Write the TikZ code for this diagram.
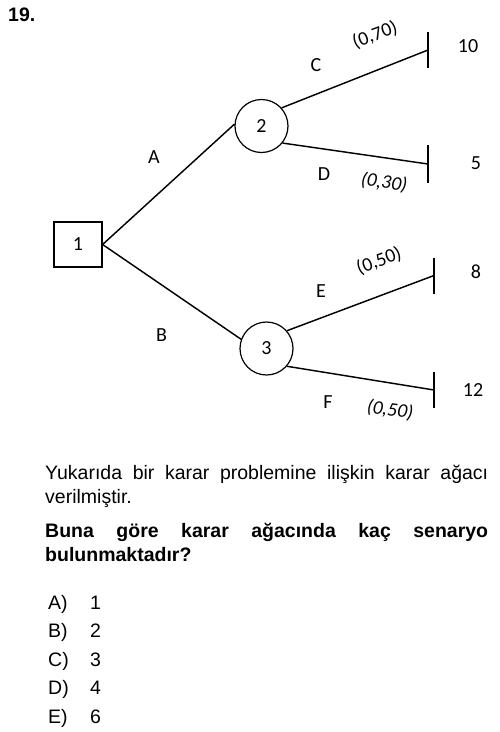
\documentclass[tikz,border=0pt]{standalone}
\usepackage{fontspec}
\setmainfont{Liberation Sans}
\newfontfamily\lblfont{Carlito}
\begin{document}
\begin{tikzpicture}[x=1pt,y=-1pt,
  qtext/.style={anchor=base west, inner sep=0, font=\fontsize{19.5}{24}\selectfont},
  qbold/.style={qtext, font=\bfseries\fontsize{19.5}{24}\selectfont},
  lbl/.style={inner sep=0, font=\lblfont\fontsize{20}{24}\selectfont},
  prob/.style={inner sep=0, font=\lblfont\fontsize{19.5}{23}\selectfont},
  probit/.style={inner sep=0, font=\lblfont\itshape\fontsize{19.5}{23}\selectfont},
  branch/.style={line width=1.45pt},
  endbar/.style={line width=1.45pt},
  chance/.style={circle, draw, line width=1.2pt, minimum size=53pt, inner sep=0, font=\lblfont\fontsize{20}{24}\selectfont},
  decision/.style={rectangle, draw, line width=1.2pt, minimum width=48pt, minimum height=45pt, inner sep=0, font=\lblfont\fontsize{20}{24}\selectfont}]
\useasboundingbox (0,0) rectangle (500,732);

% question number
\node[qbold] (qnum) at (8,21) {19.};

% tree nodes
\node[decision] (n1) at (78,244.5) {1};
\node[chance] (n2) at (261.5,126) {2};
\node[chance] (n3) at (266.5,348.5) {3};

% end points
\coordinate (eC) at (428,50);
\coordinate (eD) at (428,164);
\coordinate (eE) at (434,275.5);
\coordinate (eF) at (434,390);

% branches
\draw[branch] (n1.east) -- (n2.176);
\draw[branch] (n1.east) -- (n3.160);
\draw[branch] (n2.42) -- (eC);
\draw[branch] (n2.-39) -- (eD);
\draw[branch] (n3.41) -- (eE);
\draw[branch] (n3.-41) -- (eF);

% end bars
\draw[endbar] (eC) ++(0,-18) -- ++(0,36);
\draw[endbar] (eD) ++(0,-19) -- ++(0,38);
\draw[endbar] (eE) ++(0,-18) -- ++(0,36);
\draw[endbar] (eF) ++(0,-18) -- ++(0,36);

% branch labels
\node[lbl] (lA) at (154,157) {A};
\node[lbl] (lB) at (161.5,335) {B};
\node[lbl] (lC) at (316,65) {C};
\node[lbl] (lD) at (324,174.5) {D};
\node[lbl] (lE) at (321,291.5) {E};
\node[lbl] (lF) at (328,402) {F};

% probabilities
\node[prob, rotate=20] (pC) at (375,35) {(0,70)};
\node[probit, rotate=-8] (pD) at (384,182.5) {(0,30)};
\node[prob, rotate=20] (pE) at (379,261) {(0,50)};
\node[probit, rotate=-8] (pF) at (390,410) {(0,50)};

% payoffs
\node[lbl] (v10) at (468,46) {10};
\node[lbl] (v5) at (476,163.5) {5};
\node[lbl] (v8) at (476,271.5) {8};
\node[lbl] (v12) at (473,390) {12};

% question text
\node[qtext] (t1) at (45,479) {\makebox[443pt][s]{Yukarıda bir karar problemine ilişkin karar ağacı}};
\node[qtext] (t2) at (45,503) {verilmiştir.};
\node[qbold] (t3) at (45,537) {\makebox[443pt][s]{Buna göre karar ağacında kaç senaryo}};
\node[qbold] (t4) at (45,561) {bulunmaktadır?};

% options
\node[qtext] (oA) at (48,609) {A)};
\node[qtext] (oAv) at (90,609) {1};
\node[qtext] (oB) at (48,637.5) {B)};
\node[qtext] (oBv) at (90,637.5) {2};
\node[qtext] (oC) at (48,666) {C)};
\node[qtext] (oCv) at (90,666) {3};
\node[qtext] (oD) at (48,694.5) {D)};
\node[qtext] (oDv) at (90,694.5) {4};
\node[qtext] (oE) at (48,723) {E)};
\node[qtext] (oEv) at (90,723) {6};
\end{tikzpicture}
\end{document}
